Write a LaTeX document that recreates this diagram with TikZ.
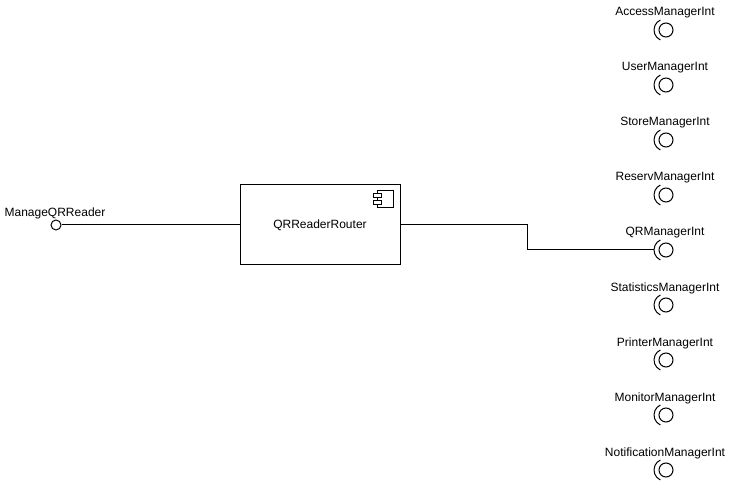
\documentclass[tikz,border=0pt]{standalone}
\usepackage{fontspec}
\setmainfont{Liberation Sans}
\usetikzlibrary{positioning}

\tikzset{
    lbl/.style={inner sep=0pt, font=\fontsize{12}{14}\selectfont},
    ball/.style={draw, circle, minimum size=14pt, inner sep=0pt, line width=1pt},
    lolly/.style={draw, circle, fill=white, minimum size=10pt, inner sep=0pt, line width=1pt},
    compbox/.style={draw, minimum width=160pt, minimum height=80pt, line width=1pt, font=\fontsize{12}{14}\selectfont}
}

\begin{document}
\begin{tikzpicture}[x=1pt, y=-1pt, line width=1pt]
    \useasboundingbox (0,0) rectangle (729,481);

    % Component
    \node[compbox] (router) at (320,225) {QRReaderRouter};
    \draw (377,191) rectangle (393,208);
    \draw[fill=white] (373,194) rectangle (381,198);
    \draw[fill=white] (373,201) rectangle (381,205);

    % Provided interface
    \node[lolly] (provided) at (56,225) {};
    \node[lbl] (providedlbl) at (55,213) {ManageQRReader};
    \draw (provided) -- (router);

    % Required interfaces
    \foreach \iname [count=\i from 0] in {AccessManagerInt, UserManagerInt, StoreManagerInt,
        ReservManagerInt, QRManagerInt, StatisticsManagerInt, PrinterManagerInt,
        MonitorManagerInt, NotificationManagerInt} {
        \node[ball] (req\i) at (666,30+55*\i) {};
        \node[lbl] (reqlbl\i) at (665,13+55*\i) {\iname};
        \draw ([shift={(665,30+55*\i)}]115:11) arc[start angle=115, end angle=245, radius=11];
        \coordinate (sock\i) at (654,30+55*\i);
    }

    % Connector to QRManagerInt
    \draw (router.east) -- ++(127,0) |- (sock4);
\end{tikzpicture}
\end{document}
